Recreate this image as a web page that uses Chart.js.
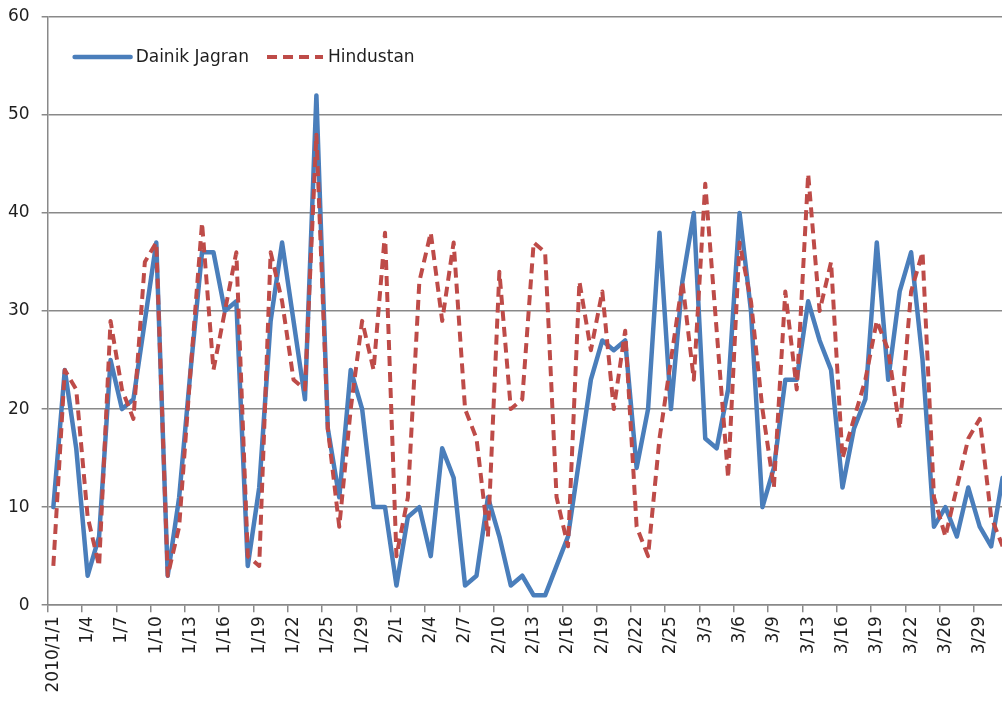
<!DOCTYPE html>
<html>

<head>
    <title>Dainik Jagran / Hindustan</title>
    <meta charset="utf-8">
    <script src="https://cdn.jsdelivr.net/npm/chart.js@4.4.0/dist/chart.umd.min.js"></script>
    <style>
        html, body { margin: 0; padding: 0; background: #fff; overflow: hidden; }
        #wrap { width: 1027px; height: 701px; }
    </style>
    <script>
        // dates as they appear on the axis (one per issue, some days missing)
        var dates = [
            "2010/1/1", "1/2", "1/3", "1/4", "1/5", "1/6", "1/7", "1/8", "1/9", "1/10",
            "1/11", "1/12", "1/13", "1/14", "1/15", "1/16", "1/17", "1/18", "1/19", "1/20",
            "1/21", "1/22", "1/23", "1/24", "1/25", "1/26", "1/28", "1/29", "1/30", "1/31",
            "2/1", "2/2", "2/3", "2/4", "2/5", "2/6", "2/7", "2/8", "2/9", "2/10",
            "2/11", "2/12", "2/13", "2/14", "2/15", "2/16", "2/17", "2/18", "2/19", "2/20",
            "2/21", "2/22", "2/23", "2/24", "2/25", "2/26", "2/27", "3/3", "3/4", "3/5",
            "3/6", "3/7", "3/8", "3/9", "3/10", "3/11", "3/13", "3/14", "3/15", "3/16",
            "3/17", "3/18", "3/19", "3/20", "3/21", "3/22", "3/23", "3/24", "3/26", "3/27",
            "3/28", "3/29", "3/30", "3/31"
        ];

        var dainikJagran = [
            10, 24, 16, 3, 7, 25, 20, 21, 29, 37,
            3, 11, 24, 36, 36, 30, 31, 4, 12, 29,
            37, 29, 21, 52, 18, 11, 24, 20, 10, 10,
            2, 9, 10, 5, 16, 13, 2, 3, 11, 7,
            2, 3, 1, 1, 4, 7, 15, 23, 27, 26,
            27, 14, 20, 38, 20, 33, 40, 17, 16, 22,
            40, 30, 10, 14, 23, 23, 31, 27, 24, 12,
            18, 21, 37, 23, 32, 36, 25, 8, 10, 7,
            12, 8, 6, 13
        ];

        var hindustan = [
            4, 24, 22, 9, 4, 29, 22, 19, 35, 37,
            3, 8, 24, 39, 24, 30, 36, 5, 4, 36,
            31, 23, 22, 48, 18, 8, 20, 29, 24, 38,
            5, 11, 33, 38, 29, 37, 20, 17, 7, 34,
            20, 21, 37, 36, 11, 6, 33, 26, 32, 20,
            28, 8, 5, 17, 25, 33, 23, 43, 28, 13,
            37, 31, 20, 12, 32, 22, 44, 30, 35, 15,
            19, 23, 29, 26, 18, 32, 36, 11, 7, 12,
            17, 19, 9, 6
        ];

        var seriesNames = ["Dainik Jagran", "Hindustan"];
        var yMin = 0, yMax = 60, yStep = 10;
        var labelEvery = 3;

        var gridGray = "#898989";
        var textColor = "#1e1e1e";

        // legend drawn inside the plot, top left, like the original
        var insideLegend = {
            id: "insideLegend",
            afterDatasetsDraw: function(chart) {
                var ctx = chart.ctx;
                var area = chart.chartArea;
                var x = area.left + 27;
                var y = area.top + 40;
                ctx.save();
                ctx.font = "17px 'DejaVu Sans'";
                ctx.textBaseline = "middle";
                chart.data.datasets.forEach(function(ds) {
                    ctx.beginPath();
                    ctx.strokeStyle = ds.borderColor;
                    ctx.lineWidth = ds.borderWidth;
                    ctx.lineCap = ds.borderCapStyle || "butt";
                    ctx.setLineDash(ds.borderDash || []);
                    ctx.moveTo(x, y);
                    ctx.lineTo(x + 56, y);
                    ctx.stroke();
                    ctx.setLineDash([]);
                    ctx.fillStyle = textColor;
                    ctx.fillText(ds.label, x + 61, y + 1);
                    x += 61 + ctx.measureText(ds.label).width + 18;
                });
                ctx.restore();
            }
        };

        function LoadChart() {
            Chart.defaults.font.family = "'DejaVu Sans'";
            Chart.defaults.font.size = 17;
            Chart.defaults.color = textColor;

            var ctx = document.getElementById("myChart");
            return new Chart(ctx, {
                type: "line",
                plugins: [insideLegend],
                data: {
                    labels: dates,
                    datasets: [{
                        label: seriesNames[0],
                        data: dainikJagran,
                        borderColor: "#4a7ebb",
                        borderWidth: 4.5,
                        borderJoinStyle: "round",
                        borderCapStyle: "round",
                        pointRadius: 0,
                        tension: 0,
                        order: 1
                    }, {
                        label: seriesNames[1],
                        data: hindustan,
                        borderColor: "#be4b48",
                        borderWidth: 4,
                        borderDash: [10, 6],
                        borderJoinStyle: "round",
                        pointRadius: 0,
                        tension: 0,
                        order: 0
                    }]
                },
                options: {
                    responsive: true,
                    maintainAspectRatio: false,
                    animation: false,
                    layout: { padding: { left: -4, top: 17, right: 0, bottom: 4.5 } },
                    plugins: {
                        legend: { display: false },
                        tooltip: { enabled: false }
                    },
                    scales: {
                        x: {
                            offset: true,
                            grid: {
                                offset: true,
                                drawOnChartArea: false,
                                drawTicks: true,
                                tickLength: 7,
                                lineWidth: 1.5,
                                color: function(c) {
                                    return c.index % labelEvery === 0 ? gridGray : "rgba(0,0,0,0)";
                                }
                            },
                            border: { color: gridGray, width: 1.5 },
                            ticks: {
                                autoSkip: false,
                                maxRotation: 90,
                                minRotation: 90,
                                padding: 4,
                                callback: function(val, i) {
                                    return i % labelEvery === 0 ? dates[i] : "";
                                }
                            }
                        },
                        y: {
                            min: yMin,
                            max: yMax,
                            afterFit: function(scale) {
                                // top of the plot is set by layout padding instead
                                scale.paddingTop = 0;
                            },
                            grid: {
                                color: gridGray,
                                lineWidth: 1.5,
                                tickLength: 6
                            },
                            border: { color: gridGray, width: 1.5 },
                            ticks: {
                                stepSize: yStep,
                                padding: 12
                            }
                        }
                    }
                }
            });
        }
    </script>
</head>

<body>
    <div id="wrap"><canvas id="myChart"></canvas></div>
    <script>
        var chart = LoadChart();
    </script>
</body>

</html>
